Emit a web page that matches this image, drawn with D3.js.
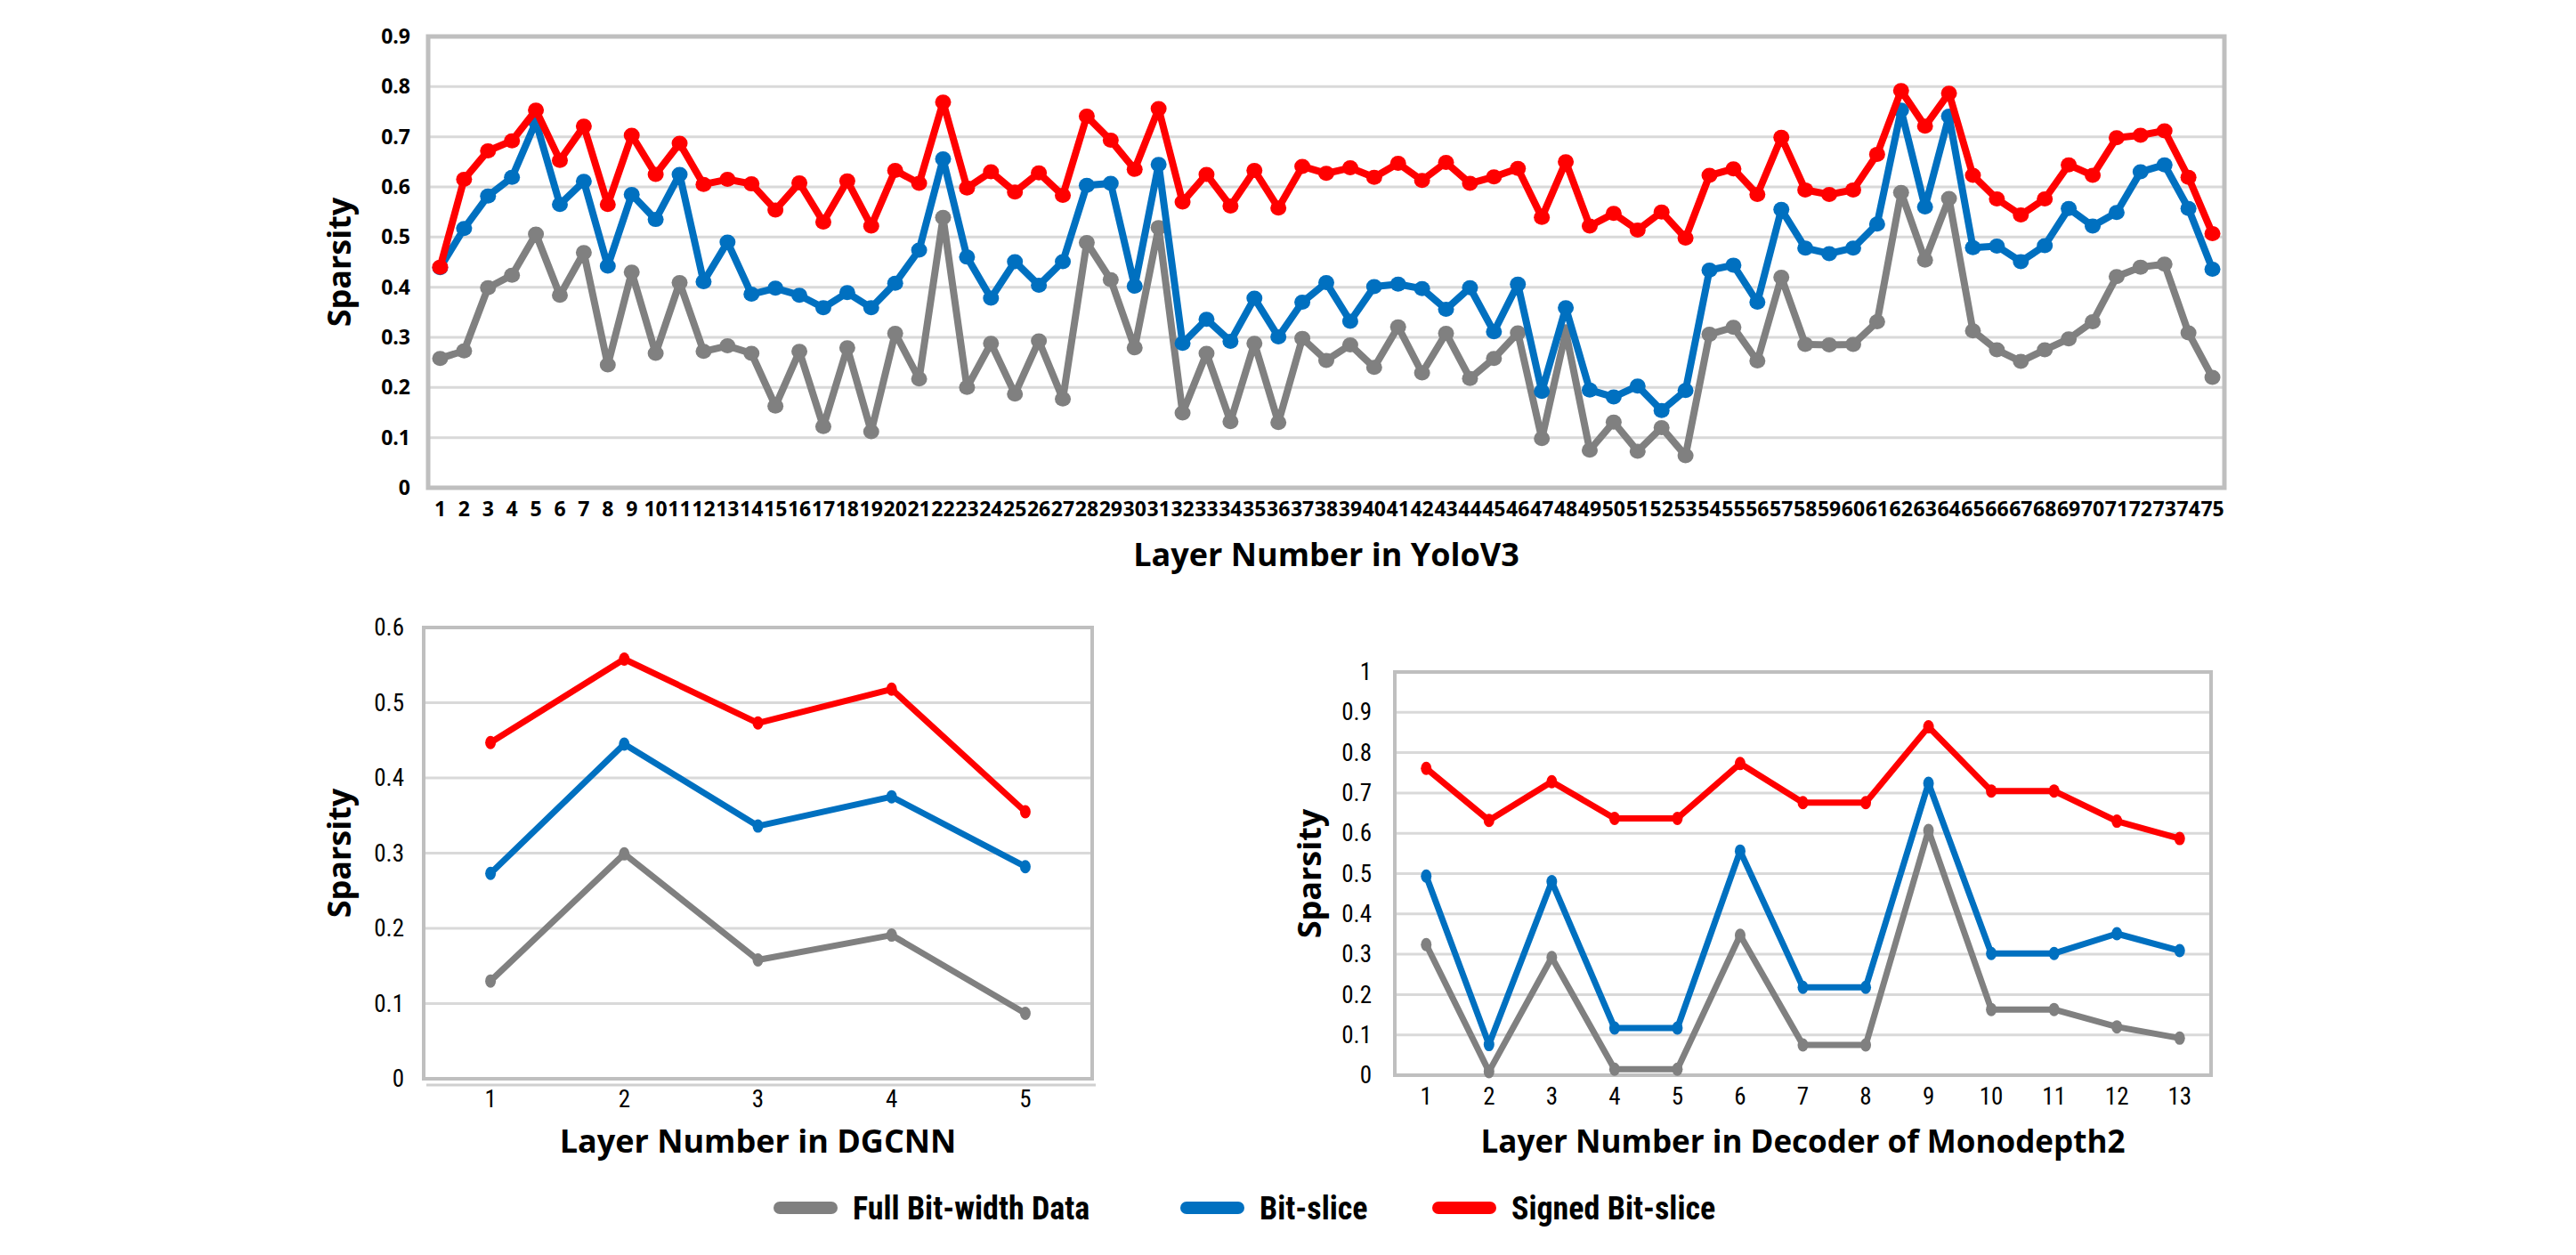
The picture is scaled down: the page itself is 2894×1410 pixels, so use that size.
<!DOCTYPE html>
<html>
<head>
<meta charset="utf-8">
<script src="https://cdn.jsdelivr.net/npm/d3@7"></script>
<style>
  html, body { margin: 0; padding: 0; background: #ffffff; }
  svg { display: block; }
</style>
</head>
<body>
<svg id="chart" width="2894" height="1410"></svg>
<script>
// ---------------- DATA ----------------
const seriesNames = ["Full Bit-width Data", "Bit-slice", "Signed Bit-slice"];
const seriesColors = ["#808080", "#0070C0", "#FF0000"];

const yoloLayers = d3.range(1, 76);
const yoloFull = [0.258,0.273,0.399,0.424,0.506,0.384,0.469,0.245,0.430,0.268,0.409,0.272,0.283,0.268,0.163,0.272,0.122,0.279,0.112,0.308,
  0.217,0.539,0.200,0.288,0.187,0.293,0.177,0.489,0.415,0.279,0.519,0.149,0.268,0.132,0.288,0.130,0.298,0.254,0.285,0.240,
  0.321,0.229,0.308,0.218,0.258,0.309,0.098,0.311,0.075,0.131,0.073,0.120,0.064,0.306,0.320,0.253,0.420,0.286,0.285,0.286,
  0.331,0.589,0.454,0.577,0.313,0.275,0.252,0.275,0.297,0.331,0.421,0.440,0.446,0.309,0.220];
const yoloBit = [0.439,0.517,0.582,0.619,0.730,0.565,0.611,0.442,0.585,0.535,0.625,0.411,0.490,0.386,0.398,0.384,0.359,0.389,0.359,0.408,
  0.474,0.656,0.460,0.378,0.451,0.404,0.451,0.603,0.607,0.402,0.645,0.288,0.336,0.292,0.378,0.301,0.370,0.409,0.332,0.401,
  0.406,0.397,0.356,0.399,0.311,0.406,0.192,0.359,0.195,0.181,0.203,0.154,0.194,0.434,0.444,0.370,0.555,0.478,0.467,0.478,
  0.526,0.753,0.560,0.741,0.479,0.482,0.451,0.483,0.557,0.522,0.549,0.630,0.644,0.557,0.436];
const yoloSigned = [0.440,0.615,0.672,0.692,0.753,0.653,0.721,0.565,0.703,0.625,0.687,0.605,0.615,0.606,0.554,0.608,0.530,0.612,0.522,0.633,
  0.607,0.769,0.598,0.630,0.590,0.628,0.583,0.741,0.693,0.635,0.756,0.570,0.625,0.562,0.633,0.558,0.641,0.627,0.638,0.619,
  0.647,0.613,0.649,0.607,0.620,0.637,0.539,0.650,0.522,0.547,0.514,0.550,0.498,0.623,0.636,0.585,0.699,0.594,0.585,0.594,
  0.665,0.792,0.721,0.787,0.623,0.576,0.544,0.576,0.644,0.623,0.698,0.703,0.712,0.619,0.507];
const yoloTicks = [0,0.1,0.2,0.3,0.4,0.5,0.6,0.7,0.8,0.9];

const dgcnnLayers = [1,2,3,4,5];
const dgcnnFull = [0.130,0.299,0.158,0.191,0.087];
const dgcnnBit = [0.273,0.445,0.336,0.375,0.282];
const dgcnnSigned = [0.447,0.558,0.473,0.518,0.355];
const dgcnnTicks = [0,0.1,0.2,0.3,0.4,0.5,0.6];

const monoLayers = d3.range(1, 14);
const monoFull = [0.324,0.009,0.292,0.015,0.015,0.347,0.075,0.075,0.607,0.163,0.163,0.120,0.092];
const monoBit = [0.494,0.076,0.480,0.117,0.117,0.556,0.218,0.218,0.724,0.302,0.302,0.351,0.309];
const monoSigned = [0.761,0.632,0.728,0.637,0.637,0.773,0.676,0.676,0.864,0.705,0.705,0.630,0.587];
const monoTicks = [0,0.1,0.2,0.3,0.4,0.5,0.6,0.7,0.8,0.9,1];

// ---------------- DRAW ----------------
const svg = d3.select("#chart");
const fmt = d => (d === 0 ? "0" : d === 1 ? "1" : d3.format(".1f")(d));

function panel(opt) {
  const g = svg.append("g");
  const x = d3.scaleBand().domain(opt.cats).range([opt.x0, opt.x1]);
  const y = d3.scaleLinear().domain([0, opt.ymax]).range([opt.y1, opt.y0]);

  // gridlines
  g.append("g").selectAll("line").data(opt.ticks.filter(t => t > 0 && t < opt.ymax)).join("line")
    .attr("x1", opt.x0).attr("x2", opt.x1)
    .attr("y1", d => y(d)).attr("y2", d => y(d))
    .attr("stroke", "#d9d9d9").attr("stroke-width", opt.gridW);

  // plot border
  g.append("rect").attr("x", opt.x0).attr("y", opt.y0)
    .attr("width", opt.x1 - opt.x0).attr("height", opt.y1 - opt.y0)
    .attr("fill", "none").attr("stroke", "#bfbfbf").attr("stroke-width", opt.borderW);
  if (opt.extraAxis) {
    g.append("line").attr("x1", opt.x0 + 3).attr("x2", opt.x1 + 4)
      .attr("y1", opt.y1 + opt.extraAxis).attr("y2", opt.y1 + opt.extraAxis)
      .attr("stroke", "#d0d0d0").attr("stroke-width", 3);
  }

  // y axis labels
  const yAxis = d3.axisLeft(y).tickValues(opt.ticks).tickFormat(fmt).tickSize(0).tickPadding(opt.yPad);
  const ya = g.append("g").attr("transform", `translate(${opt.x0},0)`).call(yAxis);
  ya.select(".domain").remove();
  ya.selectAll("text").attr("font-family", opt.tickFont).attr("font-weight", opt.tickWeight)
    .attr("font-size", opt.tickSize).attr("fill", "#000");

  // x axis labels
  const xAxis = d3.axisBottom(x).tickSize(0).tickPadding(opt.xPad);
  const xa = g.append("g").attr("transform", `translate(0,${opt.y1})`).call(xAxis);
  xa.select(".domain").remove();
  xa.selectAll("text").attr("font-family", opt.tickFont).attr("font-weight", opt.tickWeight)
    .attr("font-size", opt.xTickSize || opt.tickSize).attr("fill", "#000");

  // titles
  g.append("text").attr("x", (opt.x0 + opt.x1) / 2 + (opt.titleDx || 0)).attr("y", opt.titleY)
    .attr("text-anchor", "middle").attr("font-family", "'Open Sans', sans-serif")
    .attr("font-weight", "bold").attr("font-size", opt.titleSize).attr("fill", "#000")
    .text(opt.xTitle);
  g.append("text").attr("transform", `translate(${opt.yTitleX},${(opt.y0 + opt.y1) / 2}) rotate(-90)`)
    .attr("text-anchor", "middle").attr("font-family", "'Open Sans', sans-serif")
    .attr("font-weight", "bold").attr("font-size", opt.yTitleSize).attr("fill", "#000")
    .text("Sparsity");

  // series
  const line = d3.line().x((d, i) => x(opt.cats[i]) + x.bandwidth() / 2).y(d => y(d));
  opt.series.forEach((vals, si) => {
    const sg = g.append("g");
    sg.append("path").datum(vals).attr("d", line).attr("fill", "none")
      .attr("stroke", seriesColors[si]).attr("stroke-width", opt.lineW)
      .attr("stroke-linejoin", "round").attr("stroke-linecap", "round");
    sg.selectAll("ellipse").data(vals).join("ellipse")
      .attr("cx", (d, i) => x(opt.cats[i]) + x.bandwidth() / 2).attr("cy", d => y(d))
      .attr("rx", opt.markerRx).attr("ry", opt.markerRy).attr("fill", seriesColors[si]);
  });
}

panel({
  cats: yoloLayers, series: [yoloFull, yoloBit, yoloSigned], ticks: yoloTicks, ymax: 0.9,
  x0: 481, x1: 2499, y0: 41, y1: 548,
  gridW: 3, borderW: 5, lineW: 8, markerRx: 9, markerRy: 8.5,
  tickFont: "'Open Sans', sans-serif", tickWeight: "bold", tickSize: 23, xTickSize: 23,
  yPad: 20, xPad: 16,
  xTitle: "Layer Number in YoloV3", titleY: 636, titleSize: 36,
  yTitleX: 394, yTitleSize: 36
});

panel({
  cats: dgcnnLayers, series: [dgcnnFull, dgcnnBit, dgcnnSigned], ticks: dgcnnTicks, ymax: 0.6,
  x0: 476, x1: 1227, y0: 705, y1: 1212,
  gridW: 3, borderW: 4, lineW: 7, markerRx: 6, markerRy: 7.5, extraAxis: 7,
  tickFont: "'Liberation Sans Narrow', 'Roboto Condensed', sans-serif", tickWeight: "normal", tickSize: 27,
  yPad: 22, xPad: 13,
  xTitle: "Layer Number in DGCNN", titleY: 1295, titleSize: 36,
  yTitleX: 394, yTitleSize: 36
});

panel({
  cats: monoLayers, series: [monoFull, monoBit, monoSigned], ticks: monoTicks, ymax: 1,
  x0: 1567, x1: 2484, y0: 755, y1: 1208,
  gridW: 3, borderW: 4, lineW: 7, markerRx: 6, markerRy: 7.5,
  tickFont: "'Liberation Sans Narrow', 'Roboto Condensed', sans-serif", tickWeight: "normal", tickSize: 27,
  yPad: 26, xPad: 14,
  xTitle: "Layer Number in Decoder of Monodepth2", titleY: 1295, titleSize: 35, titleDx: 0,
  yTitleX: 1484, yTitleSize: 36
});

// legend
const legendX = [870, 1327, 1610];
const lg = svg.append("g");
seriesNames.forEach((name, i) => {
  lg.append("line").attr("x1", legendX[i] + 6).attr("x2", legendX[i] + 64)
    .attr("y1", 1357).attr("y2", 1357).attr("stroke", seriesColors[i])
    .attr("stroke-width", 14).attr("stroke-linecap", "round");
  lg.append("text").attr("x", legendX[i] + 88).attr("y", 1370)
    .attr("font-family", "'Liberation Sans Narrow', 'Roboto Condensed', sans-serif")
    .attr("font-weight", "bold").attr("font-size", 36).attr("fill", "#000").text(name);
});
</script>
</body>
</html>
